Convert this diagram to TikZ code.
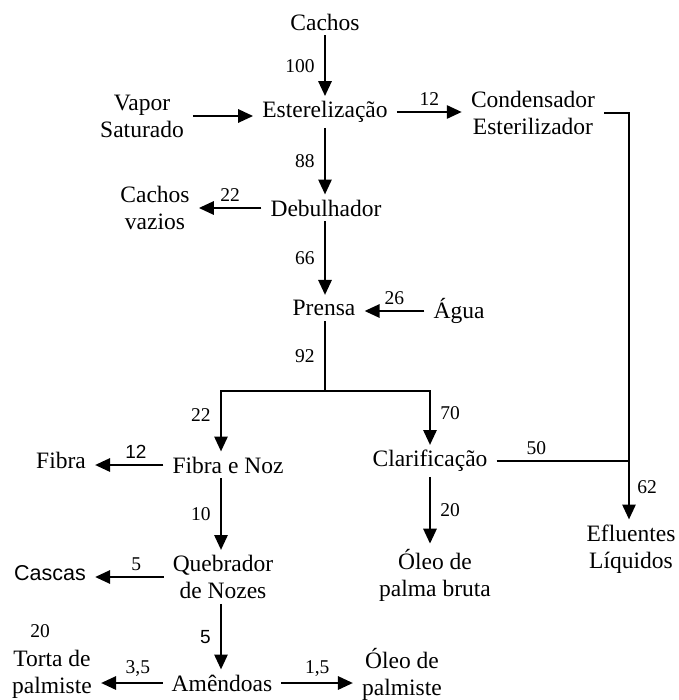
\documentclass[tikz,border=0pt]{standalone}
\usepackage{fontspec}
\setmainfont{Liberation Serif}
\newfontfamily\arialfont{Liberation Sans}
\usetikzlibrary{arrows.meta, positioning}

\begin{document}
\begin{tikzpicture}[x=1pt, y=-1pt,
    box/.style={align=center, inner xsep=9pt, inner ysep=5pt, font=\fontsize{23.5}{27}\selectfont},
    num/.style={font=\fontsize{19.5}{22}\selectfont, inner sep=3pt},
    snum/.style={font=\arialfont\fontsize{19}{22}\selectfont, inner sep=3pt},
    flow/.style={-{Triangle[length=15pt, width=13pt]}, line width=2.8pt},
    pipe/.style={line width=2.8pt}]
    \useasboundingbox (0,0) rectangle (678,700);

    \coordinate (colL) at (221,0);
    \coordinate (colC) at (325,0);
    \coordinate (colR) at (629,0);
    \coordinate (split) at (325,391);

    \node[box] (cachos) at (325,22) {Cachos};
    \node[box] (ester) at (325,112) {Esterelização};
    \node[box] (vapor) at (142,116) {Vapor\\Saturado};
    \node[box] (cond) at (533,113) {Condensador\\Esterilizador};
    \node[box] (debul) at (326,208) {Debulhador};
    \node[box] (vazios) at (155,208) {Cachos\\vazios};
    \node[box] (prensa) at (324,308) {Prensa};
    \node[box] (agua) at (459,311) {Água};
    \node[box] (fibranoz) at (228,465) {Fibra e Noz};
    \node[box] (clarif) at (430,461) {Clarificação};
    \node[box] (fibra) at (61,460) {Fibra};
    \node[box] (quebr) at (223,577) {Quebrador\\de Nozes};
    \node[box, font=\arialfont\fontsize{21.5}{25}\selectfont] (cascas) at (50,573) {Cascas};
    \node[box] (oleobruta) at (435,575) {Óleo de\\palma bruta};
    \node[box] (eflu) at (631,549) {Efluentes\\Líquidos};
    \node[box] (amend) at (222,683) {Amêndoas};
    \node[box] (torta) at (52,674) {Torta de\\palmiste};
    \node[box] (oleopalm) at (402,674) {Óleo de\\palmiste};
    \node[num] (tortaval) at (40,631) {20};

    \draw[flow] (cachos) -- (ester) node[num, midway, left=6pt] {100};
    \draw[flow] (vapor.east) -- (vapor.east -| ester.west);
    \draw[flow] (ester.east) -- (ester.east -| cond.west) node[num, midway, above=2pt] {12};
    \draw[flow] (cond.east) -| (eflu.north -| colR) node[num, pos=0.96, right=4pt] {62};
    \draw[flow] (ester.south -| colC) -- (debul.north -| colC) node[num, midway, left=6pt] {88};
    \draw[flow] (debul.west) -- (debul.west -| vazios.east) node[num, midway, above=2pt] {22};
    \draw[flow] (debul.south -| colC) -- (prensa.north -| colC) node[num, midway, left=6pt] {66};
    \draw[flow] (agua.west) -- (agua.west -| prensa.east) node[num, midway, above=2pt] {26};

    \draw[pipe] (prensa.south -| colC) -- (split) node[num, midway, left=6pt] {92};
    \draw[flow] (split) -| (fibranoz.north -| colL) node[num, pos=0.7, left=6pt] {22};
    \draw[flow] (split) -| (clarif.north) node[num, pos=0.7, right=6pt] {70};

    \draw[flow] (fibranoz.west) -- (fibranoz.west -| fibra.east) node[snum, pos=0.4, above=2pt] {12};
    \draw[pipe] (clarif.east) -- (clarif.east -| colR) node[num, pos=0.3, above=2pt] {50};
    \draw[flow] (fibranoz.south -| colL) -- (quebr.north -| colL) node[num, midway, left=6pt] {10};
    \draw[flow] (quebr.west) -- (quebr.west -| cascas.east) node[num, pos=0.4, above=2pt] {5};
    \draw[flow] (clarif) -- (oleobruta.north -| clarif) node[num, midway, right=6pt] {20};
    \draw[flow] (quebr.south -| colL) -- (amend.north -| colL) node[snum, midway, left=6pt] {5};
    \draw[flow] (amend.west) -- (amend.west -| torta.east) node[num, pos=0.4, above=2pt] {3,5};
    \draw[flow] (amend.east) -- (amend.east -| oleopalm.west) node[num, midway, above=2pt] {1,5};
\end{tikzpicture}
\end{document}
